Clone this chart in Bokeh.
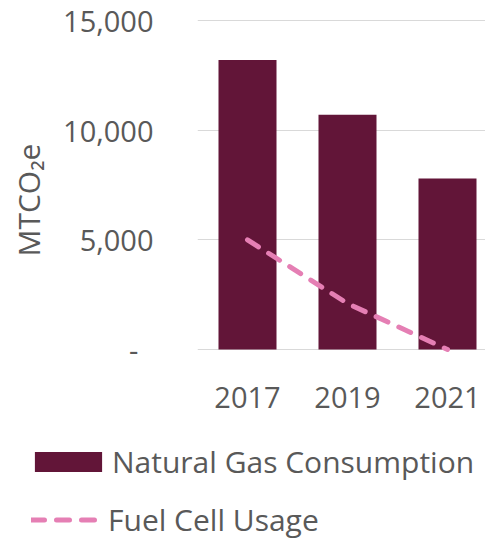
from bokeh.plotting import figure
from bokeh.models import (Range1d, FixedTicker, NumeralTickFormatter, Legend, LegendItem,
                          ColumnDataSource)
from bokeh.embed import file_html
from bokeh.resources import INLINE

years = ["2017", "2019", "2021"]
natural_gas = [13200, 10700, 7800]
fuel_cell = [5000, 2100, 0]
y_ticks = [0, 5000, 10000, 15000]
series_names = ["Natural Gas Consumption", "Fuel Cell Usage"]

FONT = "Open Sans"
TXT = "#595959"
BAR = "#621538"
PINK = "#E57FB4"

xpos = [i + 1 for i in range(len(years))]
src = ColumnDataSource(dict(x=xpos, year=years, gas=natural_gas, fuel=fuel_cell))

p = figure(width=485, height=420, output_backend="svg", toolbar_location=None,
           x_range=Range1d(0.5, 3.38), y_range=Range1d(-136, 15182),
           min_border_left=197, min_border_right=0, min_border_top=16, min_border_bottom=68)
p.outline_line_color = None
p.background_fill_color = "white"
p.border_fill_color = "white"

bar_style = dict(fill_color=BAR, line_color=None)
line_style = dict(line_color=PINK, line_width=5, line_dash="13 12", line_cap="round")

p.vbar(x="x", top="gas", width=0.58, source=src, **bar_style)
p.line(x="x", y="fuel", source=src, **line_style)

# axes
p.xaxis.ticker = FixedTicker(ticks=xpos)
p.xaxis.major_label_overrides = {x: y for x, y in zip(xpos, years)}
p.yaxis.ticker = FixedTicker(ticks=y_ticks)
p.yaxis.formatter = NumeralTickFormatter(format="0,0")
p.yaxis.major_label_overrides = {0: "-\u00a0\u00a0"}
for ax in (p.xaxis[0], p.yaxis[0]):
    ax.axis_line_color = None
    ax.major_tick_line_color = None
    ax.minor_tick_line_color = None
    ax.major_label_text_font = FONT
    ax.major_label_text_font_size = "29px"
    ax.major_label_text_color = TXT
p.xaxis.major_label_standoff = 28
p.yaxis.major_label_standoff = 38
p.yaxis.axis_label = "MTCO\u2082e\u00a0\u00a0\u00a0\u00a0"
p.yaxis.axis_label_text_font = FONT
p.yaxis.axis_label_text_font_size = "30px"
p.yaxis.axis_label_text_font_style = "normal"
p.yaxis.axis_label_text_color = TXT
p.yaxis.axis_label_standoff = 11

p.xgrid.grid_line_color = None
p.ygrid.ticker = FixedTicker(ticks=y_ticks)
p.ygrid.grid_line_color = "#D9D9D9"
p.ygrid.grid_line_width = 1

# legend panel: a second root below the chart, so the legend can sit at the far left;
# its renderers are hidden and only serve as legend swatches
q = figure(width=485, height=119, output_backend="svg", toolbar_location=None,
           x_range=Range1d(10, 11), y_range=Range1d(1e6, 1e6 + 1),
           x_axis_location=None, y_axis_location=None,
           min_border=0, outline_line_color=None)
q.grid.visible = False
lbar = q.vbar(x="x", top="gas", width=0.58, source=src, visible=False, **bar_style)
lline = q.line(x="x", y="fuel", source=src, visible=False, **line_style)

def make_legend(item, loc, gw, gh, standoff):
    return Legend(items=[item], location=loc, glyph_width=gw, glyph_height=gh,
                  label_standoff=standoff, padding=0, margin=0, spacing=0,
                  border_line_color=None, background_fill_alpha=0,
                  label_text_font=FONT, label_text_font_size="30px", label_text_color=TXT,
                  label_height=25)

lg1 = make_legend(LegendItem(label=series_names[0], renderers=[lbar]), (26, 57), 84, 25, 2)
lg2 = make_legend(LegendItem(label=series_names[1], renderers=[lline]), (31, -1), 67, 25, 10)
q.add_layout(lg1, "center")
q.add_layout(lg2, "center")

open("out.html", "w").write(file_html([p, q], INLINE))
